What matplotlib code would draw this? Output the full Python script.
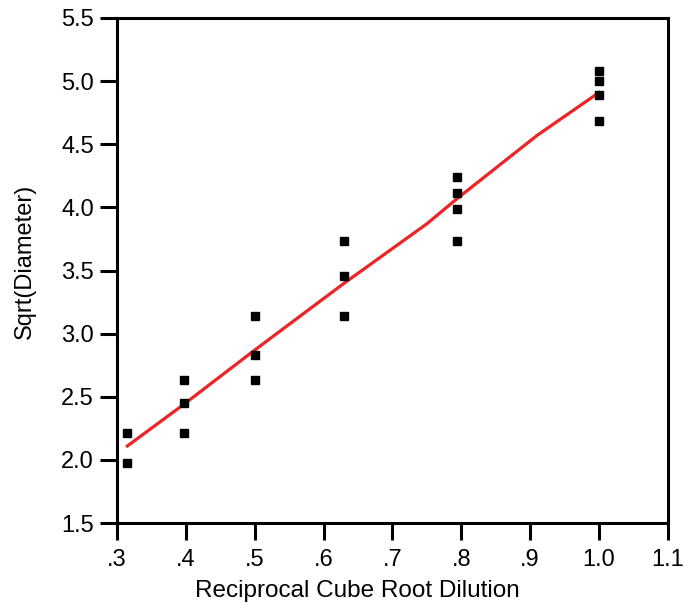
import matplotlib
matplotlib.use("Agg")
import matplotlib.pyplot as plt

plt.rcParams['font.family'] = ['Liberation Sans', 'DejaVu Sans']

x_pts = [0.315, 0.315,
         0.397, 0.397, 0.397,
         0.5, 0.5, 0.5,
         0.63, 0.63, 0.63,
         0.794, 0.794, 0.794, 0.794,
         1.0, 1.0, 1.0, 1.0]
y_pts = [2.215, 1.978,
         2.633, 2.448, 2.215,
         3.142, 2.83, 2.633,
         3.736, 3.459, 3.142,
         4.243, 4.116, 3.99, 3.736,
         5.083, 5.003, 4.893, 4.687]

fit_x = [0.315, 0.397, 0.5, 0.63, 0.75, 0.794, 0.91, 1.0]
fit_y = [2.11, 2.44, 2.87, 3.40, 3.87, 4.07, 4.57, 4.91]

xticks = [0.3, 0.4, 0.5, 0.6, 0.7, 0.8, 0.9, 1.0, 1.1]
xticklabels = ['.3', '.4', '.5', '.6', '.7', '.8', '.9', '1.0', '1.1']
yticks = [1.5, 2.0, 2.5, 3.0, 3.5, 4.0, 4.5, 5.0, 5.5]
yticklabels = ['1.5', '2.0', '2.5', '3.0', '3.5', '4.0', '4.5', '5.0', '5.5']

fig = plt.figure(figsize=(6.85, 6.12), dpi=100)
ax = fig.add_axes([0.1708, 0.1454, 0.975 - 0.1708, 0.9706 - 0.1454])

ax.plot(fit_x, fit_y, color='#ee2326', lw=2.3, zorder=2)
ax.plot(x_pts, y_pts, linestyle='none', marker='s', markersize=6,
        color='black', zorder=3)

ax.set_xlim(0.3, 1.1)
ax.set_ylim(1.5, 5.5)
ax.set_xticks(xticks)
ax.set_xticklabels(xticklabels)
ax.set_yticks(yticks)
ax.set_yticklabels(yticklabels)

for s in ax.spines.values():
    s.set_linewidth(2.2)
ax.tick_params(direction='out', length=12.5, width=2.2, labelsize=17)
ax.tick_params(axis='x', pad=6)
ax.tick_params(axis='y', pad=4)
ax.set_xlabel('Reciprocal Cube Root Dilution', fontsize=17.5)
ax.set_ylabel('Sqrt(Diameter)', fontsize=17)
ax.xaxis.set_label_coords(0.437, -0.112)
ax.yaxis.set_label_coords(-0.148, 0.519)

fig.savefig('out.png', dpi=100)
